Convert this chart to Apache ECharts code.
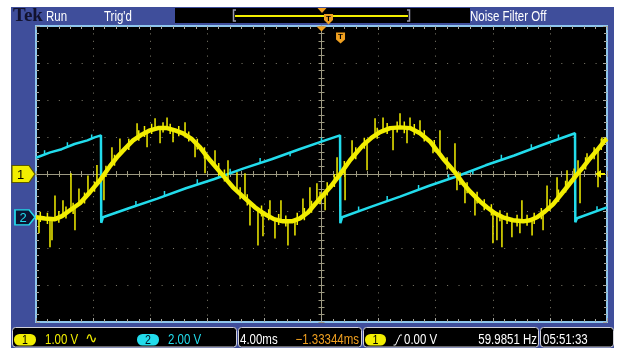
<!DOCTYPE html>
<html><head><meta charset="utf-8">
<script src="https://cdn.jsdelivr.net/npm/echarts@6/dist/echarts.min.js"></script>
<style>
html,body{margin:0;padding:0;background:#fff;}
#panel{position:absolute;left:11px;top:7px;width:603px;height:341px;background:#3f4e9b;}
#c{position:absolute;left:0;top:0;width:621px;height:348px;}
</style>
</head><body><div id="panel"></div><div id="c"></div>
<script>
// ---- scope settings ----
const ch1VoltsPerDiv = 1.0;
const ch2VoltsPerDiv = 2.0;
const timePerDivMs = 4.0;
const ch1PositionDiv = 0.0;
const ch2PositionDiv = -1.17;
const triggerLevelV = 0.0;
const horizPositionMs = -1.33344;
const freqText = '59.9851 Hz';
const clockText = '05:51:33';

// ---- CH1 (yellow) trace: [time ms, volts] ----
const ch1Trace = [
[-20.00,-1.17],[-19.37,-1.20],[-18.67,-1.22],[-18.18,-1.14],[-17.62,-0.98],[-16.92,-0.79],[-16.22,-0.49],
[-15.52,-0.17],[-14.82,0.21],[-14.33,0.45],[-13.76,0.69],[-13.20,0.91],[-12.57,1.07],[-12.01,1.18],
[-11.45,1.24],[-10.82,1.24],[-10.26,1.18],[-9.70,1.10],[-9.07,0.94],[-8.51,0.72],[-7.81,0.37],
[-6.97,-0.01],[-6.20,-0.36],[-5.36,-0.66],[-4.66,-0.90],[-3.96,-1.09],[-3.33,-1.22],[-2.70,-1.28],
[-2.07,-1.28],[-1.51,-1.20],[-0.95,-1.04],[-0.46,-0.82],[0.04,-0.60],[0.60,-0.36],[1.30,-0.01],
[2.00,0.37],[2.91,0.78],[3.54,0.99],[4.10,1.13],[4.80,1.24],[5.50,1.26],[6.20,1.24],[6.90,1.10],
[7.60,0.88],[8.51,0.42],[9.35,0.05],[9.91,-0.25],[10.40,-0.47],[11.10,-0.74],[11.59,-0.90],
[12.15,-1.06],[12.71,-1.17],[13.41,-1.25],[14.12,-1.28],[14.61,-1.25],[15.10,-1.17],[15.66,-1.01],
[16.22,-0.82],[16.85,-0.52],[17.41,-0.25],[17.90,-0.01],[18.32,0.18],[18.81,0.42],[19.30,0.64],
[19.86,0.91],[20.00,0.95]
];
// ---- CH1 large noise spikes: [time ms, from V, to V] ----
const ch1Spikes = [
[-19.79,-1.17,-1.60],[-19.02,-1.20,-1.98],[-18.88,-1.20,-1.79],[-18.67,-1.20,-0.58],[-18.11,-1.12,-0.71],
[-17.55,-0.95,0.02],[-17.27,-0.87,-1.52],[-16.99,-0.82,-0.39],[-16.36,-0.55,-0.04],[-15.73,-0.28,0.24],
[-15.24,-0.04,-0.71],[-14.68,0.29,0.72],[-14.12,0.59,0.96],[-12.92,0.99,1.37],[-12.22,1.15,0.72],
[-11.66,1.21,1.51],[-11.31,1.24,0.83],[-10.82,1.24,1.53],[-10.40,1.21,0.86],[-9.56,1.07,1.40],
[-8.86,0.88,0.45],[-8.16,0.56,0.02],[-7.46,0.21,0.64],[-6.55,-0.20,0.37],[-5.92,-0.44,0.05],
[-5.36,-0.66,0.02],[-5.01,-0.79,-1.39],[-4.45,-0.95,-1.93],[-4.10,-1.04,-1.68],[-3.61,-1.17,-0.71],
[-3.26,-1.22,-1.74],[-2.84,-1.28,-0.71],[-2.35,-1.28,-1.93],[-1.86,-1.25,-1.66],[-1.30,-1.17,-0.66],
[-0.81,-0.98,-0.36],[-0.32,-0.76,-0.25],[0.25,-0.52,-0.98],[1.09,-0.12,0.45],[1.65,0.18,-0.71],
[2.14,0.42,0.91],[3.19,0.88,0.10],[3.75,1.05,1.51],[4.31,1.15,1.53],[5.01,1.24,0.64],
[5.50,1.26,1.64],[5.99,1.26,0.83],[6.20,1.24,1.53],[6.90,1.10,1.45],[7.81,0.80,0.56],
[8.30,0.53,1.18],[9.35,0.05,0.83],[9.49,-0.01,-0.44],[10.05,-0.31,-0.79],[10.75,-0.60,-1.12],
[12.01,-1.04,-1.87],[12.29,-1.09,-1.79],[12.64,-1.14,-1.98],[13.34,-1.25,-1.71],[13.90,-1.28,-1.60],
[14.04,-1.28,-0.71],[14.75,-1.25,-1.66],[15.52,-1.06,-1.52],[15.80,-0.95,-0.31],[16.50,-0.68,-0.09],
[17.20,-0.36,0.10],[17.97,0.02,0.37],[18.11,0.07,-0.79],[18.60,0.29,0.56],[19.37,0.67,-0.36],
[19.65,0.78,0.99]
];
// ---- CH1 band fuzz (short noise around the trace): [time ms, from V, to V] ----
const ch1Fuzz = [
[-19.7,-1.30,-1.02],[-19.2,-1.35,-1.05],[-18.4,-1.32,-1.00],[-17.9,-1.20,-0.88],[-17.4,-1.08,-0.78],
[-16.6,-0.80,-0.50],[-15.9,-0.48,-0.20],[-15.1,-0.08,0.22],[-14.5,0.22,0.52],[-13.5,0.65,0.95],
[-12.8,0.90,1.18],[-12.4,1.00,1.30],[-11.9,1.08,1.36],[-11.1,1.12,1.40],[-10.6,1.08,1.36],
[-10.0,1.02,1.30],[-9.3,0.88,1.15],[-8.7,0.66,0.95],[-8.2,0.42,0.72],[-7.2,-0.05,0.30],
[-6.8,-0.20,0.12],[-5.7,-0.68,-0.36],[-5.2,-0.85,-0.55],[-4.2,-1.15,-0.85],[-3.7,-1.25,-0.95],
[-3.0,-1.38,-1.08],[-2.5,-1.42,-1.12],[-1.7,-1.38,-1.05],[-1.2,-1.25,-0.92],[-0.7,-1.05,-0.72],
[-0.1,-0.82,-0.48],[0.4,-0.58,-0.22],[0.9,-0.35,0.00],[1.6,0.00,0.35],[2.4,0.40,0.72],
[3.0,0.68,0.98],[3.9,0.95,1.25],[4.6,1.08,1.38],[5.3,1.12,1.42],[5.8,1.10,1.42],
[6.5,1.05,1.35],[7.2,0.88,1.18],[7.9,0.60,0.92],[8.8,0.12,0.45],[9.7,-0.30,0.05],
[10.2,-0.52,-0.22],[10.9,-0.80,-0.48],[11.4,-0.98,-0.68],[11.9,-1.12,-0.82],[12.5,-1.28,-0.98],
[13.0,-1.35,-1.05],[13.7,-1.42,-1.10],[14.4,-1.40,-1.10],[14.9,-1.35,-1.05],[15.4,-1.22,-0.92],
[16.0,-1.00,-0.68],[16.6,-0.75,-0.42],[17.1,-0.50,-0.18],[17.7,-0.20,0.15],[18.5,0.12,0.45],
[19.1,0.40,0.72],[19.6,0.65,0.95]
];
// ---- CH2 (cyan) trace: [time ms, volts] ----
const ch2Trace = [
[-20.00,3.22],[-19.00,3.51],[-18.20,3.68],[-17.30,3.96],[-16.40,4.16],[-15.90,4.32],[-15.45,4.43],
[-15.43,-0.30],[-15.31,0.00],
[-13.50,0.49],[-11.50,1.01],[-9.50,1.57],[-7.50,2.07],[-5.50,2.63],[-3.50,3.14],[-1.50,3.69],[0.30,4.17],[1.30,4.43],
[1.32,-0.32],[1.44,0.00],
[3.50,0.58],[5.50,1.12],[7.50,1.69],[9.50,2.22],[11.50,2.81],[13.50,3.34],[15.50,3.92],[17.76,4.54],
[17.78,-0.27],[17.90,-0.05],[20.00,0.54]
];
// ---- CH2 noise spikes: [time ms, from V, to V] ----
const ch2Spikes = [
[-19.4,3.38,3.62],[-17.8,3.80,4.05],[-16.1,4.24,4.48],[-13.0,0.62,0.88],[-11.0,1.15,1.42],
[-8.7,1.77,2.05],[-6.4,2.38,2.62],[-4.3,2.93,3.20],[-2.2,3.50,3.30],[0.0,4.08,4.30],
[2.6,0.32,0.58],[4.6,0.88,1.15],[6.8,1.48,1.75],[8.9,2.06,2.33],[10.6,2.55,2.32],
[12.6,3.10,3.38],[14.7,3.68,3.95],[16.6,4.22,4.48],[19.3,0.35,0.60]
];

// ---- styling ----
const YEL = '#f2ee00', CYAN = '#22dcec', ORANGE = '#f0a020';
const dotCol = '#807e6e', centerCol = '#9d9a82', tickCol = '#a8a8a0';
const SANS = '"Liberation Sans",Arial,sans-serif';

const toDiv1 = v => v / ch1VoltsPerDiv + ch1PositionDiv;
const toDiv2 = v => v / ch2VoltsPerDiv + ch2PositionDiv;
const spikeData = (arr, f) => arr.flatMap(([t, a, b]) => [[t, f(a)], [t, f(b)], [t, '-']]);

const xMin = -5 * timePerDivMs, xMax = 5 * timePerDivMs;
function xAx(extra) {
  return Object.assign({
    type: 'value', min: xMin, max: xMax, interval: timePerDivMs,
    axisLabel: { show: false }, splitLine: { show: false },
    axisLine: { show: false, onZero: false },
    axisTick: { show: true, inside: true, length: 4, lineStyle: { color: tickCol } },
    minorTick: { show: true, splitNumber: 5, length: 3, lineStyle: { color: tickCol } }
  }, extra);
}
function yAx(extra) {
  return Object.assign({
    type: 'value', min: -4, max: 4, interval: 1,
    axisLabel: { show: false }, splitLine: { show: false },
    axisLine: { show: false, onZero: false },
    axisTick: { show: true, inside: true, length: 4, lineStyle: { color: tickCol } },
    minorTick: { show: true, splitNumber: 5, length: 3, lineStyle: { color: tickCol } }
  }, extra);
}
const centerLineX = { show: true, onZero: true, onZeroAxisIndex: 0, lineStyle: { color: centerCol, width: 1 } };

// condensed text helper (Tek display font is narrow)
function T(text, x, y, fill, opt) {
  opt = opt || {};
  return { type: 'text', z: opt.z || 11, x: x, y: y, scaleX: opt.sx || 0.82,
    style: { text: text, x: 0, y: 0, fill: fill, font: (opt.font || ('14px ' + SANS)),
             align: opt.align || 'left', verticalAlign: 'middle' } };
}

const chart = echarts.init(document.getElementById('c'));
chart.setOption({
  animation: false,
  backgroundColor: 'transparent',
  grid: { left: 36, top: 26, width: 571, height: 296, show: true, backgroundColor: '#000',
          borderColor: '#8fc6ec', borderWidth: 2, containLabel: false, outerBoundsMode: 'none' },
  xAxis: [
    xAx({ position: 'bottom', splitLine: { show: true, showMinLine: false, showMaxLine: false,
          lineStyle: { color: dotCol, width: 1, type: [1, 6.4] } } }),
    xAx({ position: 'top' }),
    xAx({ position: 'bottom', axisLine: centerLineX,
          axisTick: { show: true, inside: true, length: 3, lineStyle: { color: centerCol } },
          minorTick: { show: true, splitNumber: 5, length: 3, lineStyle: { color: centerCol } } }),
    xAx({ position: 'bottom', axisLine: centerLineX,
          axisTick: { show: true, inside: false, length: 3, lineStyle: { color: centerCol } },
          minorTick: { show: true, splitNumber: 5, length: 3, lineStyle: { color: centerCol } } })
  ],
  yAxis: [
    yAx({ position: 'left', splitLine: { show: true, showMinLine: false, showMaxLine: false,
          lineStyle: { color: dotCol, width: 1, type: [1, 10.42] } } }),
    yAx({ position: 'right' }),
    yAx({ position: 'left', axisLine: centerLineX,
          axisTick: { show: true, inside: true, length: 3, lineStyle: { color: centerCol } },
          minorTick: { show: true, splitNumber: 5, length: 3, lineStyle: { color: centerCol } } }),
    yAx({ position: 'left', axisLine: centerLineX,
          axisTick: { show: true, inside: false, length: 3, lineStyle: { color: centerCol } },
          minorTick: { show: true, splitNumber: 5, length: 3, lineStyle: { color: centerCol } } })
  ],
  series: [
    { type: 'line', name: 'CH2', data: ch2Trace.map(([t, v]) => [t, toDiv2(v)]),
      showSymbol: false, symbol: 'none', clip: false, z: 3,
      lineStyle: { color: CYAN, width: 2.5 },
      markPoint: { silent: true, animation: false, data: [
        { coord: [xMin, ch2PositionDiv], symbol: 'path://M0,0 H14 L20,7 L14,14 H0 Z',
          symbolSize: [20, 15], symbolOffset: [-11, 0],
          itemStyle: { color: '#0b1430', borderColor: CYAN, borderWidth: 1.5 },
          label: { show: true, formatter: '2', color: CYAN, fontSize: 13, fontFamily: SANS, offset: [-2, 1] } }
      ] } },
    { type: 'line', name: 'CH2 noise', data: spikeData(ch2Spikes, toDiv2), connectNulls: false,
      showSymbol: false, symbol: 'none', clip: false, z: 3, lineStyle: { color: CYAN, width: 1.5 } },
    { type: 'line', name: 'CH1', data: ch1Trace.map(([t, v]) => [t, toDiv1(v)]),
      showSymbol: false, symbol: 'none', clip: false, z: 4,
      lineStyle: { color: YEL, width: 4.5 },
      markPoint: { silent: true, animation: false, data: [
        { coord: [xMin, ch1PositionDiv], symbol: 'path://M0,0 H17 L23,8.5 L17,17 H0 Z',
          symbolSize: [23, 17], symbolOffset: [-12.5, 0],
          itemStyle: { color: YEL, borderColor: '#5a5800', borderWidth: 1 },
          label: { show: true, formatter: '1', color: '#000', fontSize: 13, fontFamily: SANS, offset: [-3, 1] } },
        { coord: [xMax, toDiv1(triggerLevelV)], symbol: 'path://M0,4 L6,0 L6,3 L10,3 L10,5 L6,5 L6,8 Z',
          symbolSize: [10, 8], symbolOffset: [-7, 0], itemStyle: { color: YEL }, label: { show: false } },
        { coord: [0, 4], symbol: 'path://M0,0 L10,0 L5,6 Z', symbolSize: [10, 5], symbolOffset: [0, 3],
          itemStyle: { color: ORANGE }, label: { show: false } },
        { coord: [-horizPositionMs, 4], symbol: 'path://M0,0 L10,0 L10,7 L5,11 L0,7 Z',
          symbolSize: [9, 11], symbolOffset: [0, 12], itemStyle: { color: ORANGE },
          label: { show: true, formatter: 'T', color: '#000', fontSize: 8, fontWeight: 'bold', offset: [0, -1] } }
      ] } },
    { type: 'line', name: 'CH1 fuzz', data: spikeData(ch1Fuzz, toDiv1), connectNulls: false,
      showSymbol: false, symbol: 'none', clip: false, z: 4, lineStyle: { color: YEL, width: 1.5 } },
    { type: 'line', name: 'CH1 noise', data: spikeData(ch1Spikes, toDiv1), connectNulls: false,
      showSymbol: false, symbol: 'none', clip: false, z: 4, lineStyle: { color: YEL, width: 1.5 } }
  ],
  graphic: { elements: [
    // top bar
    { type: 'text', z: 10, style: { text: 'Tek', x: 13, y: 16, fill: '#12122e', font: 'bold 19px "Liberation Serif",serif', verticalAlign: 'middle' } },
    T('Run', 46, 17, '#fff', { z: 10 }),
    T("Trig'd", 104, 17, '#fff', { z: 10 }),
    T('Noise Filter Off', 470, 17, '#fff', { z: 10 }),
    { type: 'rect', z: 10, shape: { x: 175, y: 8, width: 295, height: 15 }, style: { fill: '#000' } },
    { type: 'polyline', z: 11, shape: { points: [[236, 10], [233.5, 10], [233.5, 21], [236, 21]] }, style: { stroke: '#9a9aae', lineWidth: 1.5, fill: null } },
    { type: 'polyline', z: 11, shape: { points: [[407, 10], [409.5, 10], [409.5, 21], [407, 21]] }, style: { stroke: '#9a9aae', lineWidth: 1.5, fill: null } },
    { type: 'line', z: 11, shape: { x1: 235, y1: 16, x2: 408, y2: 16 }, style: { stroke: YEL, lineWidth: 2 } },
    { type: 'polygon', z: 12, shape: { points: [[317.5, 8], [326.5, 8], [322, 13]] }, style: { fill: ORANGE } },
    { type: 'polygon', z: 12, shape: { points: [[324, 14], [333, 14], [333, 20], [328.5, 24.5], [324, 20]] }, style: { fill: ORANGE } },
    { type: 'text', z: 13, style: { text: 'T', x: 328.5, y: 18.5, fill: '#000', font: 'bold 8px sans-serif', align: 'center', verticalAlign: 'middle' } },
    // status bar boxes
    { type: 'rect', z: 10, shape: { x: 12.5, y: 327.5, width: 224, height: 19.5, r: 3 }, style: { fill: '#000', stroke: '#d0d0d8', lineWidth: 1 } },
    { type: 'rect', z: 10, shape: { x: 238.5, y: 327.5, width: 123, height: 19.5, r: 3 }, style: { fill: '#000', stroke: '#d0d0d8', lineWidth: 1 } },
    { type: 'rect', z: 10, shape: { x: 363.5, y: 327.5, width: 175, height: 19.5, r: 3 }, style: { fill: '#000', stroke: '#d0d0d8', lineWidth: 1 } },
    { type: 'rect', z: 10, shape: { x: 540.5, y: 327.5, width: 73, height: 19.5, r: 3 }, style: { fill: '#000', stroke: '#d0d0d8', lineWidth: 1 } },
    { type: 'rect', z: 11, shape: { x: 14, y: 334, width: 22, height: 11.5, r: 5.5 }, style: { fill: YEL } },
    T('1', 25, 340, '#000', { z: 12, align: 'center', font: '13px ' + SANS }),
    T(ch1VoltsPerDiv.toFixed(2) + ' V', 45, 340, YEL),
    { type: 'text', z: 11, style: { text: '∿', x: 85, y: 339, fill: YEL, font: '15px "DejaVu Sans",sans-serif', verticalAlign: 'middle' } },
    { type: 'rect', z: 11, shape: { x: 137, y: 334, width: 22, height: 11.5, r: 5.5 }, style: { fill: CYAN } },
    T('2', 148, 340, '#001020', { z: 12, align: 'center', font: '13px ' + SANS }),
    T(ch2VoltsPerDiv.toFixed(2) + ' V', 168, 340, CYAN),
    T(timePerDivMs.toFixed(2) + 'ms', 240, 340, '#fff'),
    T('\u2212' + Math.abs(horizPositionMs).toFixed(5) + 'ms', 359, 340, ORANGE, { align: 'right' }),
    { type: 'rect', z: 11, shape: { x: 365, y: 334, width: 21, height: 11.5, r: 5.5 }, style: { fill: YEL } },
    T('1', 375.5, 340, '#000', { z: 12, align: 'center', font: '13px ' + SANS }),
    { type: 'polyline', z: 11, shape: { points: [[393.5, 345], [395.5, 345], [400, 335], [402, 335]] }, style: { stroke: '#fff', lineWidth: 1, fill: null } },
    T(triggerLevelV.toFixed(2) + ' V', 404, 340, '#fff'),
    T(freqText, 537, 340, '#fff', { align: 'right' }),
    T(clockText, 543, 340, '#fff')
  ] }
});
</script>
</body></html>
